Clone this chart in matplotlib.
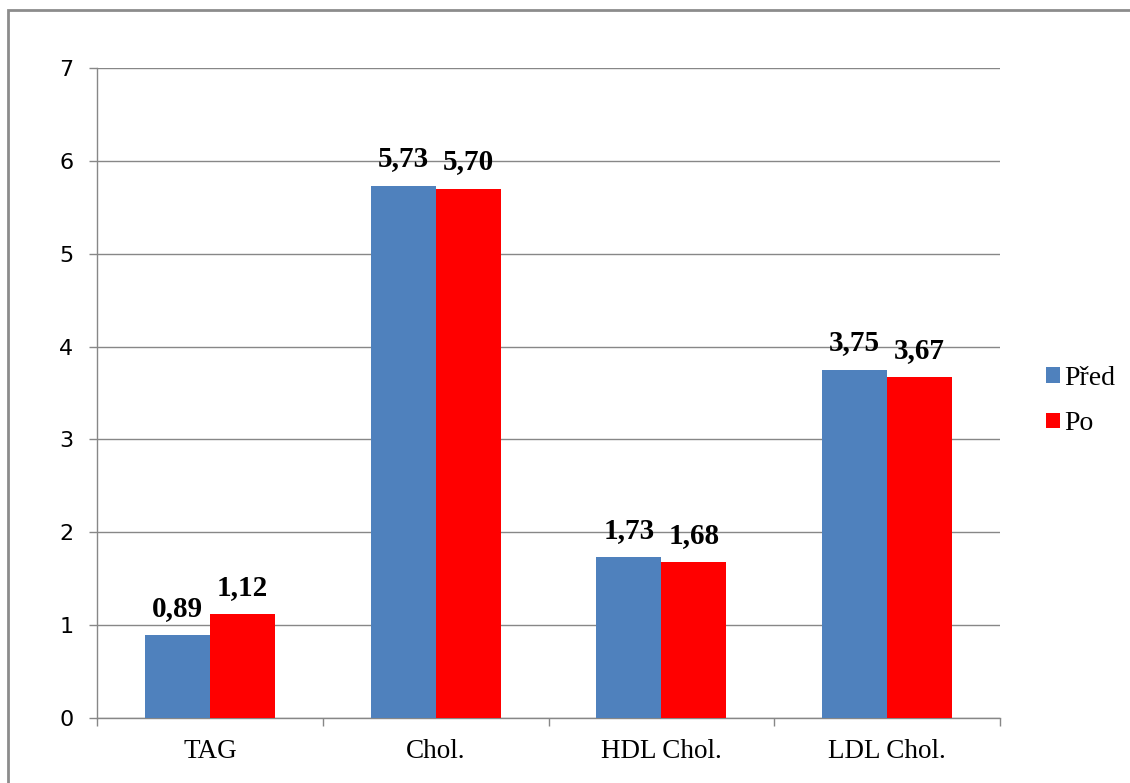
import matplotlib
matplotlib.use("Agg")
import matplotlib.pyplot as plt
from matplotlib.patches import Rectangle
import numpy as np

categories = ["TAG", "Chol.", "HDL Chol.", "LDL Chol."]
pred = [0.89, 5.73, 1.73, 3.75]
po = [1.12, 5.70, 1.68, 3.67]
series_names = ["Před", "Po"]
y_ticks = [0, 1, 2, 3, 4, 5, 6, 7]

blue = "#4F81BD"
red = "#FF0000"
grey = "#878787"

fig = plt.figure(figsize=(11.30, 7.83), dpi=100)
W, H = 1130, 783

# outer chart frame
fig.patches.append(Rectangle((8 / W, -0.1), 1.2, 1 - 10 / H + 0.1,
                             transform=fig.transFigure, fill=False,
                             edgecolor="#8c8c8c", linewidth=2.0))

ax = fig.add_axes([97 / W, 1 - 718 / H, (1000 - 97) / W, (718 - 68) / H])

x = np.arange(len(categories))
bw = 0.288
ax.bar(x - bw / 2, pred, width=bw, color=blue, label=series_names[0], zorder=3)
ax.bar(x + bw / 2, po, width=bw, color=red, label=series_names[1], zorder=3)

serif = "Liberation Serif"
for xs, vals in ((x - bw / 2, pred), (x + bw / 2, po)):
    for xi, v in zip(xs, vals):
        ax.annotate(f"{v:.2f}".replace(".", ","), (xi, v), xytext=(0, 14),
                    textcoords="offset points", ha="center", va="baseline",
                    fontsize=21, fontweight="bold", family=serif, zorder=4)

ax.set_xlim(-0.5, len(categories) - 0.5)
ax.set_ylim(0, 7)
ax.set_yticks(y_ticks)
ax.set_yticklabels([str(t) for t in y_ticks], fontsize=16, family="DejaVu Sans")
ax.yaxis.grid(True, color=grey, linewidth=1.0, zorder=0)
ax.set_axisbelow(True)

ax.set_xticks(x)
ax.set_xticklabels(categories, fontsize=19.5, family=serif)
ax.tick_params(axis="x", length=0, pad=15)
ax.set_xticks(np.arange(len(categories) + 1) - 0.5, minor=True)
ax.tick_params(axis="x", which="minor", length=6, color=grey, width=1.0)
ax.tick_params(axis="y", length=6, color=grey, width=1.0, pad=11)

for side in ("top", "right"):
    ax.spines[side].set_visible(False)
for side in ("left", "bottom"):
    ax.spines[side].set_color(grey)
    ax.spines[side].set_linewidth(1.0)

ax.legend(loc="center left", bbox_to_anchor=(1021 / W, 1 - 401 / H),
          bbox_transform=fig.transFigure, frameon=False,
          prop={"family": serif, "size": 20}, handlelength=0.5,
          handleheight=0.5, handletextpad=0.15, labelspacing=0.75)

fig.savefig("out.png", dpi=100)
